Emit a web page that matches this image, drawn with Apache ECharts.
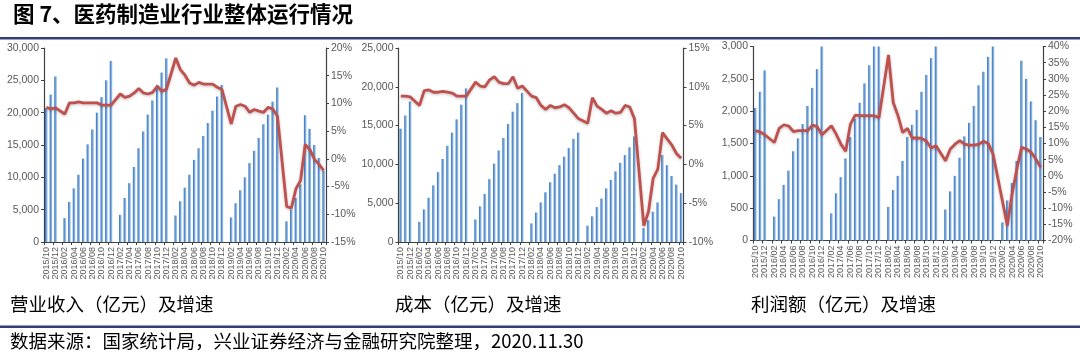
<!DOCTYPE html>
<html><head><meta charset="utf-8">
<script src="https://cdn.jsdelivr.net/npm/echarts@6/dist/echarts.min.js"></script>
<style>html,body{margin:0;padding:0;background:#fff}#c{width:1080px;height:356px}</style>
</head><body><div id="c"></div>
<script>
const months = [
 '2015/10','2015/11','2015/12',
 '2016/01','2016/02','2016/03','2016/04','2016/05','2016/06','2016/07','2016/08','2016/09','2016/10','2016/11','2016/12',
 '2017/01','2017/02','2017/03','2017/04','2017/05','2017/06','2017/07','2017/08','2017/09','2017/10','2017/11','2017/12',
 '2018/01','2018/02','2018/03','2018/04','2018/05','2018/06','2018/07','2018/08','2018/09','2018/10','2018/11','2018/12',
 '2019/01','2019/02','2019/03','2019/04','2019/05','2019/06','2019/07','2019/08','2019/09','2019/10','2019/11','2019/12',
 '2020/01','2020/02','2020/03','2020/04','2020/05','2020/06','2020/07','2020/08','2020/09','2020/10'
];
// 营业收入（亿元）
const revenue = [
 20700,22800,25600,
 null,3700,6200,8300,10400,12900,15100,17400,20000,22400,25000,28000,
 null,4200,6800,9100,11600,14500,17100,19700,21900,24300,26200,28400,
 null,4100,6300,8400,10400,12700,14500,16400,18400,20300,22500,24300,
 null,3800,6000,8000,10000,12200,14100,16100,18200,19700,21700,23900,
 null,3200,5000,6800,8900,19600,17500,15000,13000,11000
];
const revenueGrowth = [
 9.3,9.0,9.2,
 null,8.1,10.1,10.1,10.3,10.1,10.1,10.1,10.1,9.7,9.7,9.7,
 null,11.7,11.1,11.3,11.9,12.7,11.9,11.7,12.0,13.1,12.2,12.6,
 null,18.2,16.1,15.1,13.7,13.3,13.8,13.5,13.5,13.5,12.9,12.5,
 null,6.3,9.5,9.8,9.5,8.4,8.9,8.6,8.4,9.3,9.0,7.7,
 null,-8.6,-8.9,-5.4,-3.9,2.6,1.7,-0.1,-1.0,-2.1
];
// 成本（亿元）
const cost = [
 14600,16300,18100,
 null,2600,4200,5700,7300,9000,10700,12400,14100,15800,17700,19800,
 null,2900,4600,6200,8100,10100,11800,13400,15200,16800,17900,19200,
 null,2400,3800,5100,6400,7700,8800,9900,11000,12100,13300,14100,
 null,2100,3300,4500,5600,6900,8000,9100,10200,11200,12200,13600,
 null,1800,2800,3900,5100,11200,9900,8500,7400,6300
];
const costGrowth = [
 8.8,8.8,8.7,
 null,7.6,9.5,9.6,9.3,9.3,9.4,9.3,9.2,8.8,8.8,8.8,
 null,10.6,10.1,10.0,10.9,11.3,10.6,10.4,10.4,11.3,9.8,10.1,
 null,8.8,8.6,7.6,7.1,7.6,7.3,7.4,7.7,7.3,6.6,5.9,
 null,5.3,8.6,7.5,7.1,6.6,6.9,6.6,6.7,7.6,7.4,5.9,
 null,-7.9,-6.1,-1.8,-0.6,4.1,3.3,2.5,1.4,0.8
];
// 利润额（亿元）
const profit = [
 2050,2300,2630,
 null,370,640,860,1080,1380,1580,1800,2080,2360,2650,3200,
 null,420,730,980,1270,1600,1880,2130,2430,2710,3100,3300,
 null,520,780,1000,1230,1600,1790,2020,2300,2560,2820,3100,
 null,480,760,1000,1280,1610,1820,2080,2400,2610,2840,3200,
 null,280,620,890,1230,2780,2500,2150,1860,1600
];
const profitGrowth = [
 14.0,13.6,12.7,
 null,10.3,14.7,15.8,15.4,13.7,14.0,14.0,14.0,15.7,15.2,12.7,
 null,15.5,12.9,9.8,7.6,16.0,18.8,18.6,18.6,18.6,18.6,18.0,
 null,37.4,22.7,18.6,13.4,14.7,11.7,11.7,11.6,10.7,8.6,9.3,
 null,4.7,8.3,9.8,10.9,9.8,9.5,9.5,9.8,10.7,10.0,6.7,
 null,-8.0,-15.4,-5.6,2.1,8.8,8.3,7.3,5.2,2.6
];

const titleText = '图 7、医药制造业行业整体运行情况';
const panelTitles = ['营业收入（亿元）及增速','成本（亿元）及增速','利润额（亿元）及增速'];
const sourceText = '数据来源：国家统计局，兴业证券经济与金融研究院整理，2020.11.30';

const panels = [
  {bars: revenue, line: revenueGrowth, lmax: 30000, lint: 5000, rmin: -15, rmax: 20},
  {bars: cost, line: costGrowth, lmax: 25000, lint: 5000, rmin: -10, rmax: 15},
  {bars: profit, line: profitGrowth, lmax: 3000, lint: 500, rmin: -20, rmax: 40}
];
const grids = [
  {left: 44, top: 48, width: 282, height: 194},
  {left: 398.5, top: 48, width: 285, height: 194},
  {left: 753, top: 46.5, width: 290, height: 194}
];

const AX = '#404040', LBL = '#595959';
const FONT = '"Liberation Sans", Arial, sans-serif';
const CJK = '"Noto Sans CJK SC", sans-serif';
function thousands(v){ return String(v).replace(/\B(?=(\d{3})+(?!\d))/g, ','); }

const barColor = new echarts.graphic.LinearGradient(0,0,1,0,[
  {offset:0,color:'#2a6fbd'},{offset:1,color:'#b3cfee'}
]);

const option = {
  animation: false,
  backgroundColor: '#fff',
  grid: grids,
  xAxis: grids.map((g,i)=>({
    type:'category', gridIndex:i, data: months, boundaryGap: true,
    axisLine:{show:true, lineStyle:{color:AX, width:1.2}},
    axisTick:{show:true, interval:1, length:3, lineStyle:{color:AX}},
    axisLabel:{interval:1, rotate:90, fontSize:9, color:LBL, fontFamily:FONT, margin:5}
  })),
  yAxis: [].concat(...panels.map((p,i)=>[
    {type:'value', gridIndex:i, min:0, max:p.lmax, interval:p.lint, position:'left',
     axisLine:{show:true, lineStyle:{color:AX, width:1.2}},
     axisTick:{show:true, length:3, lineStyle:{color:AX}},
     splitLine:{show:false},
     axisLabel:{fontSize:10.5, color:LBL, fontFamily:FONT, margin:5, formatter: thousands}},
    {type:'value', gridIndex:i, min:p.rmin, max:p.rmax, interval:5, position:'right',
     axisLine:{show:true, lineStyle:{color:AX, width:1.2}},
     axisTick:{show:true, length:3, lineStyle:{color:AX}},
     splitLine:{show:false},
     axisLabel:{fontSize:10.5, color:LBL, fontFamily:FONT, margin:5, formatter: v=>v+'%'}}
  ])),
  series: [].concat(...panels.map((p,i)=>[
    {type:'bar', xAxisIndex:i, yAxisIndex:2*i, data:p.bars, barWidth:2.6,
     itemStyle:{color:barColor}, clip:true},
    {type:'line', xAxisIndex:i, yAxisIndex:2*i+1, data:p.line, symbol:'none', connectNulls:true,
     lineStyle:{color:'#c0504d', width:2.8, shadowColor:'rgba(0,0,0,0.25)', shadowBlur:3, shadowOffsetY:1}, z:5}
  ])),
  graphic: [
    {type:'text', left:13, top:3, style:{text:titleText, font:'bold 21.5px '+CJK, fill:'#000'}},
    {type:'rect', shape:{x:0, y:37, width:1080, height:2.5}, style:{fill:'#353c7a'}},
    {type:'text', left:10, top:295, style:{text:panelTitles[0], font:'18.5px '+CJK, fill:'#000'}},
    {type:'text', left:395, top:295, style:{text:panelTitles[1], font:'18.5px '+CJK, fill:'#000'}},
    {type:'text', left:751, top:295, style:{text:panelTitles[2], font:'18.5px '+CJK, fill:'#000'}},
    {type:'rect', shape:{x:0, y:325.5, width:1080, height:2.5}, style:{fill:'#353c7a'}},
    {type:'text', left:10, top:332, style:{text:sourceText, font:'18.5px '+CJK, fill:'#000'}}
  ]
};
const chart = echarts.init(document.getElementById('c'), null, {renderer:'canvas'});
chart.setOption(option);
</script>
</body></html>
